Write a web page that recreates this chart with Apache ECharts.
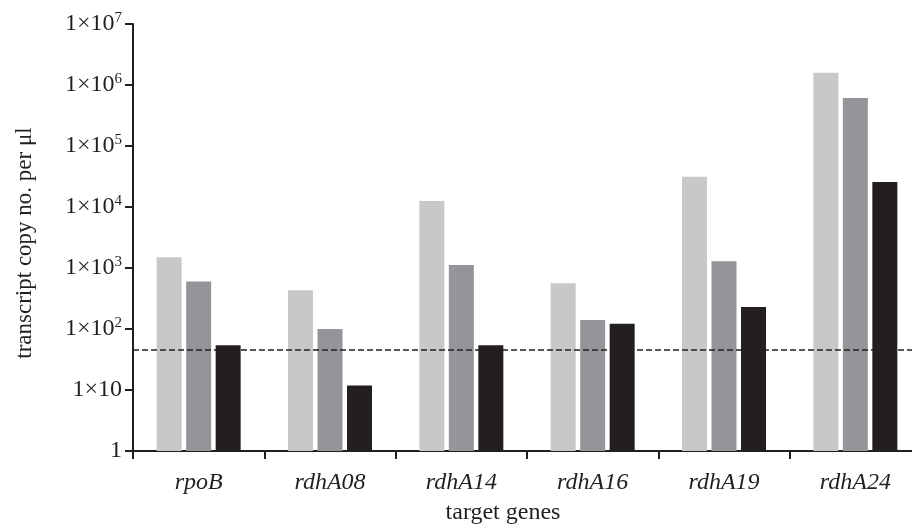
<!DOCTYPE html>
<html>
<head>
<meta charset="utf-8">
<script src="https://cdn.jsdelivr.net/npm/echarts@6/dist/echarts.min.js"></script>
<style>
html,body{margin:0;padding:0;background:#fff;overflow:hidden;width:912px;height:531px;}
#chart{width:921px;height:531px;}
</style>
</head>
<body>
<div id="chart"></div>
<script>
const categories = ['rpoB', 'rdhA08', 'rdhA14', 'rdhA16', 'rdhA19', 'rdhA24'];
const seriesLight = [1500, 430, 12600, 560, 31200, 1590000];
const seriesMid = [600, 100, 1120, 140, 1290, 612000];
const seriesDark = [54, 11.9, 54, 122, 229, 25600];
const detectionLimit = 45.5;
const yTickLabels = ['1', '1×10', '1×10{sup|2}', '1×10{sup|3}', '1×10{sup|4}', '1×10{sup|5}', '1×10{sup|6}', '1×10{sup|7}'];
const yAxisTitle = 'transcript copy no. per μl';
const xAxisTitle = 'target genes';

const ink = '#231f20';
const serif = '"Liberation Serif", "DejaVu Serif", serif';

const chart = echarts.init(document.getElementById('chart'), null, {renderer: 'canvas'});

function barSeries(name, data, color, extra) {
  return Object.assign({
    name: name,
    type: 'bar',
    data: data,
    barWidth: 25,
    barGap: '18%',
    itemStyle: {color: color},
    animation: false
  }, extra || {});
}

chart.setOption({
  animation: false,
  backgroundColor: '#ffffff',
  grid: {left: 133, top: 24, right: 0, bottom: 80, containLabel: false},
  xAxis: {
    type: 'category',
    data: categories,
    axisLine: {show: true, lineStyle: {color: ink, width: 2}},
    axisTick: {show: true, length: 8, alignWithLabel: false, lineStyle: {color: ink, width: 2}},
    axisLabel: {
      color: ink, fontFamily: serif, fontStyle: 'italic', fontSize: 24, margin: 20
    },
    splitLine: {show: false}
  },
  yAxis: {
    type: 'log',
    logBase: 10,
    min: 1,
    max: 10000000,
    interval: 1,
    axisLine: {show: true, lineStyle: {color: ink, width: 2}},
    axisTick: {show: true, length: 8, lineStyle: {color: ink, width: 2}},
    splitLine: {show: false},
    minorTick: {show: false},
    axisLabel: {
      color: ink,
      margin: 11,
      formatter: function (v) {
        const e = Math.round(Math.log10(v));
        return yTickLabels[e] !== undefined ? yTickLabels[e] : '';
      },
      fontFamily: serif,
      fontSize: 24,
      lineHeight: 26,
      rich: {
        sup: {fontFamily: serif, fontSize: 15, color: ink, verticalAlign: 'top', lineHeight: 15}
      }
    }
  },
  graphic: [
    {
      type: 'text',
      x: 25, y: 243,
      rotation: Math.PI / 2,
      style: {text: yAxisTitle, fill: ink, font: '23px ' + serif, align: 'center', verticalAlign: 'middle'}
    },
    {
      type: 'text',
      x: 503, y: 513,
      style: {text: xAxisTitle, fill: ink, font: '24px ' + serif, align: 'center', verticalAlign: 'middle'}
    }
  ],
  series: [
    barSeries('light', seriesLight, '#c7c8ca'),
    barSeries('mid', seriesMid, '#939598'),
    barSeries('dark', seriesDark, ink, {
      markLine: {
        silent: true,
        symbol: 'none',
        label: {show: false},
        lineStyle: {color: ink, type: [6, 3], width: 1.5},
        data: [{yAxis: detectionLimit}]
      }
    })
  ]
});
</script>
</body>
</html>
